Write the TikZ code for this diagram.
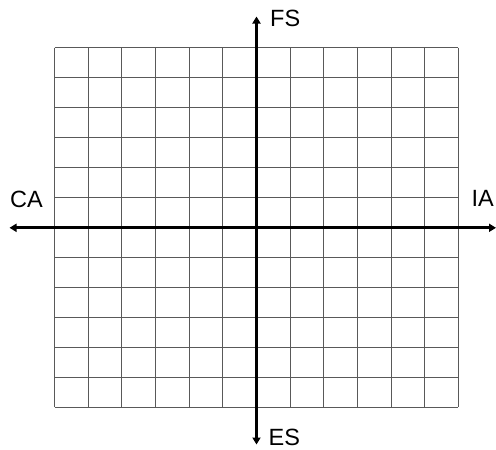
\documentclass[tikz,border=0pt]{standalone}
\usepackage{fontspec}
\setmainfont{Liberation Sans}
\usetikzlibrary{arrows.meta}
\begin{document}
\begin{tikzpicture}[x=1pt,y=-1pt,
  gridline/.style={draw=black!65,line width=0.9pt},
  axisline/.style={draw=black,line width=2.8pt,-{Triangle[length=7pt,width=8pt]}},
  axlabel/.style={inner sep=0pt,anchor=base west,font=\fontsize{23.5}{28}\selectfont}]
\useasboundingbox[fill=white] (0,0) rectangle (496,450);
% grid
\foreach \i in {0,...,12}{
  \draw[gridline] ({54.5+\i*33.65},47.7) -- ({54.5+\i*33.65},407.3);
  \draw[gridline] (54.5,{47.7+\i*29.97}) -- (458.3,{47.7+\i*29.97});
}
% axis ends
\coordinate (o) at (256.5,227.8);
\coordinate (left) at (9.5,227.8);
\coordinate (right) at (496,227.8);
\coordinate (top) at (256.5,16.5);
\coordinate (bottom) at (256.5,444.5);
\draw[axisline] (o) -- (left);
\draw[axisline] (o) -- (right);
\draw[axisline] (o) -- (top);
\draw[axisline] (o) -- (bottom);
% labels
\node[axlabel] (fs) at (270,26.7) {FS};
\node[axlabel] (es) at (268.5,445) {ES};
\node[axlabel] (ca) at (10,207.5) {CA};
\node[axlabel] (ia) at (471.3,206.7) {IA};
\end{tikzpicture}
\end{document}
